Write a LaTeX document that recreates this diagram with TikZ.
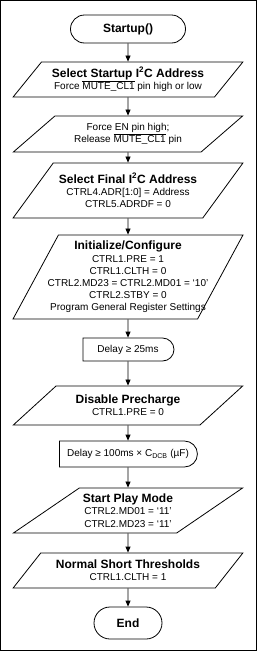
\documentclass[tikz,border=0pt]{standalone}
\usepackage{fontspec}
\setmainfont{Liberation Sans}
\usepackage{tikz}
\usetikzlibrary{arrows.meta}
\usetikzlibrary{shapes.geometric}
\usetikzlibrary{shapes.misc}

\newcommand{\hd}[1]{{\fontsize{12}{14}\selectfont\bfseries #1}}
\newcommand{\negpin}[1]{$\overline{\mbox{#1}}$}

\begin{document}
\begin{tikzpicture}[x=1pt,y=-1pt,
    every node/.style={font=\fontsize{10}{12.2}\selectfont, align=center, line width=0.8pt},
    term/.style={draw, rounded rectangle, inner sep=1pt},
    delaybox/.style={draw, rounded rectangle, rounded rectangle left arc=none, inner sep=1pt},
    iobox/.style={draw, trapezium, trapezium left angle=60, trapezium right angle=120,
      trapezium stretches=true, inner xsep=-30pt, inner ysep=1pt, minimum width=230pt},
    arr/.style={-{Triangle[width=5pt,length=6pt]}, line width=0.8pt}]
  \useasboundingbox (0,0) rectangle (257,651);
  \draw[line width=1pt] (0.5,0.5) rectangle (256.5,650.5);

  \node[term, minimum width=117pt, minimum height=28pt] (start) at (128,29) {\hd{Startup()}};
  \node[iobox, minimum height=35pt] (addr) at (128,79.5)
    {\hd{Select Startup I\textsuperscript{2}C Address}\\Force \negpin{MUTE\_CL1} pin high or low};
  \node[iobox, minimum height=36pt] (pins) at (128,134)
    {Force EN pin high;\\Release \negpin{MUTE\_CL1} pin};
  \node[iobox, minimum height=55pt] (final) at (128,190.5)
    {\hd{Select Final I\textsuperscript{2}C Address}\\CTRL4.ADR[1:0] = Address\\CTRL5.ADRDF = 0};
  \node[iobox, trapezium left angle=66, trapezium right angle=114, minimum height=84pt] (init) at (128,277)
    {\hd{Initialize/Configure}\\CTRL1.PRE = 1\\CTRL1.CLTH = 0\\CTRL2.MD23 = CTRL2.MD01 = ‘10’\\CTRL2.STBY = 0\\Program General Register Settings};
  \node[delaybox, minimum width=93pt, minimum height=23pt] (wait1) at (128,349.5) {Delay ≥ 25ms};
  \node[iobox, minimum height=39pt] (prech) at (128,405.5)
    {\hd{Disable Precharge}\\CTRL1.PRE = 0};
  \node[delaybox, minimum width=140pt, minimum height=26pt] (wait2) at (128,454)
    {Delay ≥ 100ms × C\textsubscript{DCB} (µF)};
  \node[iobox, minimum height=45pt] (play) at (128,510.5)
    {\hd{Start Play Mode}\\CTRL2.MD01 = ‘11’\\CTRL2.MD23 = ‘11’};
  \node[iobox, minimum height=35pt] (short) at (128,570.5)
    {\hd{Normal Short Thresholds}\\CTRL1.CLTH = 1};
  \node[term, minimum width=70pt, minimum height=32pt] (stop) at (128,623) {\hd{End}};

  \draw[arr] (start) -- (addr);
  \draw[arr] (addr) -- (pins);
  \draw[arr] (pins) -- (final);
  \draw[arr] (final) -- (init);
  \draw[arr] (init) -- (wait1);
  \draw[arr] (wait1) -- (prech);
  \draw[arr] (prech) -- (wait2);
  \draw[arr] (wait2) -- (play);
  \draw[arr] (play) -- (short);
  \draw[arr] (short) -- (stop);
\end{tikzpicture}
\end{document}
